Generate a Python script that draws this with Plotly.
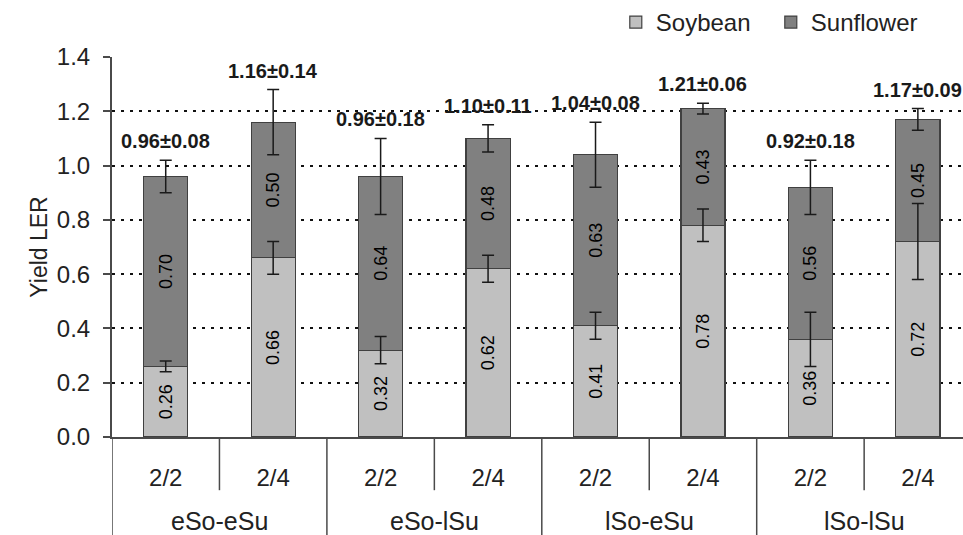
import plotly.graph_objects as go

groups = ["eSo-eSu", "eSo-lSu", "lSo-eSu", "lSo-lSu"]
ratio_labels = ["2/2", "2/4", "2/2", "2/4", "2/2", "2/4", "2/2", "2/4"]
bar_pos = list(range(len(ratio_labels)))

soybean = [0.26, 0.66, 0.32, 0.62, 0.41, 0.78, 0.36, 0.72]
sunflower = [0.70, 0.50, 0.64, 0.48, 0.63, 0.43, 0.56, 0.45]
soybean_err = [0.02, 0.06, 0.05, 0.05, 0.05, 0.06, 0.10, 0.14]
total_err = [0.06, 0.12, 0.14, 0.05, 0.12, 0.02, 0.10, 0.04]
total = [0.96, 1.16, 0.96, 1.10, 1.04, 1.21, 0.92, 1.17]
total_sd = [0.08, 0.14, 0.18, 0.11, 0.08, 0.06, 0.18, 0.09]

FONT = "Liberation Sans, Arial, sans-serif"
AXIS_COL = "#4a4a4a"

fig = go.Figure()

def add_layer(name, vals, color):
    fig.add_trace(go.Bar(
        name=name, x=bar_pos, y=vals, width=0.41,
        marker=dict(color=color, line=dict(color="#404040", width=1.2)),
        text=[f"{v:.2f}" for v in vals], textposition="inside",
        insidetextanchor="middle", textangle=-90, constraintext="none",
        textfont=dict(size=18, color="black", family=FONT),
    ))

def add_errors(tops, errs):
    # drawn as a scatter so the whiskers sit on top of the stacked bars
    fig.add_trace(go.Scatter(
        x=bar_pos, y=tops, mode="markers", marker=dict(size=1, opacity=0),
        showlegend=False, hoverinfo="skip",
        error_y=dict(type="data", array=errs, visible=True,
                     color="#1a1a1a", thickness=1.5, width=6),
    ))

add_layer("Soybean", soybean, "#c0c0c0")
add_layer("Sunflower", sunflower, "#808080")
add_errors(soybean, soybean_err)
add_errors(total, total_err)

# total +- sd labels above the bars
for i in bar_pos:
    fig.add_annotation(x=i, y=total[i] + total_err[i], yanchor="bottom", yshift=6,
                       text=f"<b>{total[i]:.2f}±{total_sd[i]:.2f}</b>",
                       showarrow=False, font=dict(size=20, color="#1a1a1a", family=FONT))

# group labels under the ratio labels
for g, name in enumerate(groups):
    fig.add_annotation(x=2 * g + 0.5, y=-0.221, xref="x", yref="paper",
                       yanchor="middle", text=name, showarrow=False,
                       font=dict(size=25, color="#222", family=FONT))

# category dividers below the axis
for k in range(len(bar_pos) + 1):
    long_one = k % 2 == 0
    fig.add_shape(type="line", xref="x", yref="paper",
                  x0=k - 0.5, x1=k - 0.5, y0=0, y1=-0.26 if long_one else -0.14,
                  line=dict(color=AXIS_COL, width=1.5))

fig.update_layout(
    barmode="stack", width=963, height=535,
    margin=dict(l=112, r=0, t=57, b=98),
    paper_bgcolor="white", plot_bgcolor="white",
    font=dict(family=FONT, size=24, color="#222"),
    showlegend=True,
    legend=dict(orientation="h", x=0.592, xanchor="left", y=1.092, yanchor="middle",
                traceorder="normal", font=dict(size=24), itemwidth=30,
                entrywidth=110, bgcolor="rgba(0,0,0,0)"),
)
fig.update_xaxes(range=[-0.5, 7.42], tickmode="array", tickvals=bar_pos,
                 ticktext=ratio_labels, ticks="", ticklabelstandoff=18,
                 showline=True, linecolor=AXIS_COL, linewidth=1.5,
                 showgrid=False, zeroline=False, tickfont=dict(size=24))
fig.update_yaxes(range=[0, 1.4], dtick=0.2, tickformat=".1f",
                 showgrid=True, gridcolor="#111", gridwidth=1.5, griddash="3px,6px",
                 showline=True, linecolor=AXIS_COL, linewidth=2,
                 ticks="outside", ticklen=7, tickwidth=2, tickcolor=AXIS_COL,
                 ticklabelstandoff=8, zeroline=False, tickfont=dict(size=24),
                 title=dict(text="Yield LER", font=dict(size=23), standoff=3))

# drop the page's default body margin so the figure fills the window exactly
fig.write_html("out.html", config={"displayModeBar": False},
               post_script="document.body.style.margin='0';document.body.style.overflow='hidden';")
